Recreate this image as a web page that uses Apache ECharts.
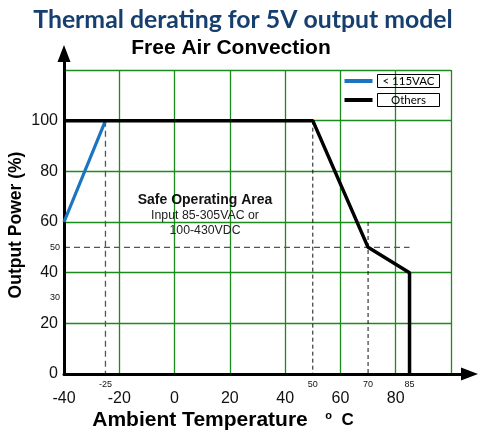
<!DOCTYPE html>
<html><head><meta charset="utf-8">
<script src="https://cdn.jsdelivr.net/npm/echarts@6/dist/echarts.min.js"></script>
<style>html,body{margin:0;padding:0;background:#fff}#c{width:479px;height:434px}</style>
</head><body><div id="c"></div>
<script>
// ---- data ----
const xTickLabels = [-40, -20, 0, 20, 40, 60, 80];
const xMarkLabels = [-25, 50, 70, 85];
const yTickLabels = [0, 20, 40, 60, 80, 100];
const yMarkLabels = [30, 50];
const seriesNames = ['< 115VAC', 'Others'];
const blueTemp = [-40, -25];
const bluePower = [60, 100];
const otherTemp = [-40, 50, 70, 85, 85];
const otherPower = [100, 100, 50, 40, 0];
const guideM25Temp = [-25, -25], guideM25Power = [100, 0];
const guide50Temp = [50, 50], guide50Power = [100, 0];
const guide70Temp = [70, 70], guide70Power = [60, 0];
const guideH50Temp = [-40, 85], guideH50Power = [50, 50];

const zip = (xs, ys) => xs.map((x, i) => [x, ys[i]]);
const GREEN = '#1b8c1b';
const F = 'Liberation Sans';

const chart = echarts.init(document.getElementById('c'));
const plotGrid = { left: 64, right: 28, top: 70, bottom: 60 };
const hiddenAxis = { axisLine: { show: false }, axisTick: { show: false }, axisLabel: { show: false }, splitLine: { show: false } };

chart.setOption({
  animation: false,
  backgroundColor: '#fff',
  grid: [
    Object.assign({}, plotGrid),
    { left: 64, right: 9.5, top: 53.5, bottom: 60 },
    Object.assign({}, plotGrid)
  ],
  xAxis: [
    { type: 'value', gridIndex: 0, min: -40, max: 100, interval: 20,
      axisLine: { show: false }, axisTick: { show: false },
      splitLine: { show: true, lineStyle: { color: GREEN, width: 1.3 } },
      axisLabel: { margin: 17, fontSize: 16, fontFamily: F, color: '#111',
        customValues: xTickLabels } },
    Object.assign({ type: 'value', gridIndex: 1, min: 0, max: 1, z: 5 }, hiddenAxis,
      { axisLine: { show: true, symbol: ['none', 'triangle'], symbolSize: [13, 17], lineStyle: { color: '#000', width: 3 } } }),
    Object.assign({ type: 'value', gridIndex: 2, min: -40, max: 100 }, hiddenAxis,
      { axisLabel: { show: true, customValues: xMarkLabels, fontSize: 9, fontFamily: F, color: '#111', margin: 6 } })
  ],
  yAxis: [
    { type: 'value', gridIndex: 0, min: 0, max: 120, interval: 20,
      axisLine: { show: false }, axisTick: { show: false },
      splitLine: { show: true, lineStyle: { color: GREEN, width: 1.3 } },
      axisLabel: { margin: 6, fontSize: 16, fontFamily: F, color: '#111',
        customValues: yTickLabels } },
    Object.assign({ type: 'value', gridIndex: 1, min: 0, max: 1, z: 5 }, hiddenAxis,
      { axisLine: { show: true, symbol: ['none', 'triangle'], symbolSize: [13, 17], lineStyle: { color: '#000', width: 3 } } }),
    Object.assign({ type: 'value', gridIndex: 2, min: 0, max: 120 }, hiddenAxis,
      { axisLabel: { show: true, customValues: yMarkLabels, fontSize: 9, fontFamily: F, color: '#111', margin: 4 } })
  ],
  legend: {
    data: seriesNames, orient: 'vertical', right: 39, top: 74, padding: 0,
    itemWidth: 28, itemHeight: 4, itemGap: 5, icon: 'rect',
    formatter: n => '{b|' + n + '}',
    textStyle: { rich: { b: { fontSize: 11.5, fontFamily: 'Lato', color: '#000', width: 58, align: 'center',
      borderColor: '#000', borderWidth: 1, padding: [1, 2, 0, 2], lineHeight: 11 } } }
  },
  series: [
    { name: 'g1', type: 'line', symbol: 'none', data: zip(guideM25Temp, guideM25Power), z: 3,
      lineStyle: { color: '#555', width: 1.3, type: [6, 4] }, silent: true },
    { name: 'g2', type: 'line', symbol: 'none', data: zip(guide50Temp, guide50Power), z: 3,
      lineStyle: { color: '#111', width: 1, type: [4, 3] }, silent: true },
    { name: 'g3', type: 'line', symbol: 'none', data: zip(guide70Temp, guide70Power), z: 3,
      lineStyle: { color: '#111', width: 1, type: [4, 3] }, silent: true },
    { name: 'g4', type: 'line', symbol: 'none', data: zip(guideH50Temp, guideH50Power), z: 3,
      lineStyle: { color: '#555', width: 1.3, type: [6, 4] }, silent: true },
    { name: seriesNames[0], type: 'line', symbol: 'none', data: zip(blueTemp, bluePower), z: 6,
      color: '#1a74c0', lineStyle: { color: '#1a74c0', width: 3.2 } },
    { name: seriesNames[1], type: 'line', symbol: 'none', data: zip(otherTemp, otherPower), z: 6,
      color: '#000', lineStyle: { color: '#000', width: 3.5 } }
  ],
  graphic: [
    { type: 'text', x: 243, y: 20, style: { text: 'Thermal derating for 5V output model', fill: '#163f6f',
      font: 'bold 24.8px Lato', textAlign: 'center', textVerticalAlign: 'middle' } },
    { type: 'text', x: 231, y: 48, style: { text: 'Free Air Convection', fill: '#000',
      font: 'bold 21px "Liberation Sans"', textAlign: 'center', textVerticalAlign: 'middle' } },
    { type: 'text', x: 205, y: 200, z: 10, style: { text: 'Safe Operating Area', fill: '#111',
      font: 'bold 14px "Liberation Sans"', textAlign: 'center', textVerticalAlign: 'middle' } },
    { type: 'text', x: 205, y: 216, z: 10, style: { text: 'Input 85-305VAC or', fill: '#222',
      font: '12.3px "Liberation Sans"', textAlign: 'center', textVerticalAlign: 'middle' } },
    { type: 'text', x: 205, y: 231, z: 10, style: { text: '100-430VDC', fill: '#222',
      font: '12.3px "Liberation Sans"', textAlign: 'center', textVerticalAlign: 'middle' } },
    { type: 'text', x: 16, y: 225, rotation: Math.PI / 2, style: { text: 'Output Power (%)', fill: '#000',
      font: 'bold 17.5px "Liberation Sans"', textAlign: 'center', textVerticalAlign: 'middle' } },
    { type: 'text', x: 223, y: 420, style: {
      text: '{a|Ambient Temperature   }{s|o}{c|  C}', textAlign: 'center', textVerticalAlign: 'middle',
      rich: {
        a: { font: 'bold 21px "Liberation Sans"', fill: '#000' },
        s: { font: 'bold 11px "Liberation Sans"', fill: '#000', padding: [0, 0, 9, 0] },
        c: { font: 'bold 17px "Liberation Sans"', fill: '#000' }
      } } }
  ]
});
</script>
</body></html>
